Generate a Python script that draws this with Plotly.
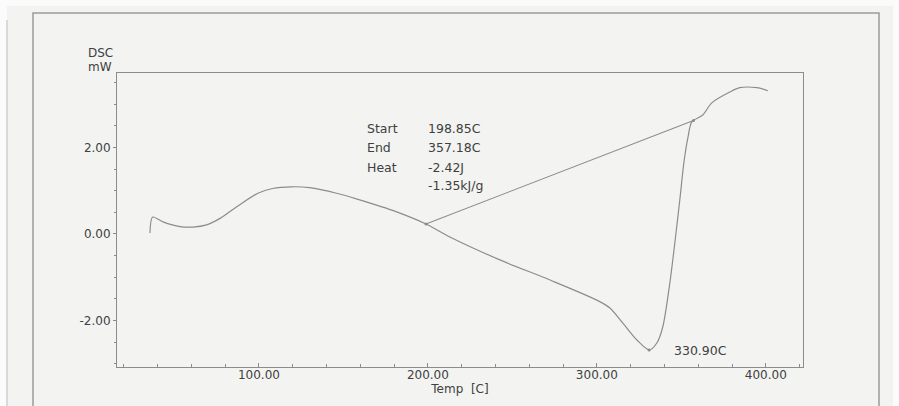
import plotly.graph_objects as go

# ---- data ----
temp_c = [35.5, 37.1, 43.2, 53.3, 61.0, 69.0, 77.0, 88.0, 99.4, 108.0, 119.5, 130.0,
          146.0, 158.6, 178.7, 198.85, 213.0, 242.6, 272.0, 300.0, 307.7, 315.4, 323.7,
          331.0, 335.5, 339.0, 343.2, 349.1, 351.5, 354.0, 356.2, 362.7, 368.0,
          378.7, 384.6, 394.7, 401.2]
dsc_mw = [0.02, 0.39, 0.28, 0.17, 0.16, 0.21, 0.36, 0.66, 0.94, 1.05, 1.09, 1.07,
          0.94, 0.80, 0.55, 0.23, -0.07, -0.60, -1.06, -1.53, -1.71, -2.06, -2.45,
          -2.68, -2.52, -2.15, -1.13, 0.79, 1.65, 2.25, 2.59, 2.75, 3.03,
          3.28, 3.38, 3.38, 3.31]

baseline_t = [198.85, 357.18]
baseline_v = [0.23, 2.62]

peak_t = 330.90
peak_v = -2.68

x_tickvals = [100, 200, 300, 400]
x_ticktext = ["100.00", "200.00", "300.00", "400.00"]
y_tickvals = [-2, 0, 2]
y_ticktext = ["-2.00", "0.00", "2.00"]

info_labels = ["Start", "End", "Heat", ""]
info_values = ["198.85C", "357.18C", "-2.42J", "-1.35kJ/g"]

LINE = "#8c8c8c"
TEXT = "#404040"
FONT = "DejaVu Sans, Verdana, sans-serif"
PAGE = "#f3f4f2"
FS = 12.5

fig = go.Figure()
fig.add_trace(go.Scatter(x=temp_c, y=dsc_mw, mode="lines",
                         line=dict(color=LINE, width=1.2, shape="spline", smoothing=0.8),
                         hoverinfo="skip"))
fig.add_trace(go.Scatter(x=baseline_t, y=baseline_v, mode="lines+markers",
                         line=dict(color=LINE, width=1.1),
                         marker=dict(size=3, color=LINE), hoverinfo="skip"))
fig.add_trace(go.Scatter(x=[peak_t], y=[peak_v], mode="markers",
                         marker=dict(size=3, color=LINE), hoverinfo="skip"))

# info text block
label_y = [2.43, 1.99, 1.53, 1.13]
for lab, val, yy in zip(info_labels, info_values, label_y):
    if lab:
        fig.add_annotation(x=162.7, y=yy, text=lab, showarrow=False, xanchor="left",
                           yanchor="middle", font=dict(size=FS, color=TEXT, family=FONT))
    fig.add_annotation(x=198.8, y=yy, text=val, showarrow=False, xanchor="left",
                       yanchor="middle", font=dict(size=FS, color=TEXT, family=FONT))

fig.add_annotation(x=344.4, y=-2.70, text=f"{peak_t:.2f}C", showarrow=False,
                   xanchor="left", yanchor="middle",
                   font=dict(size=FS, color=TEXT, family=FONT))


def px(x):
    return (x - 117) / 686


def py(y):
    return (367 - y) / 294


# DSC / mW unit label
fig.add_annotation(xref="paper", yref="paper", x=px(86), y=py(53),
                   text="DSC", showarrow=False, xanchor="left", yanchor="middle",
                   font=dict(size=12, color=TEXT, family=FONT))
fig.add_annotation(xref="paper", yref="paper", x=px(86), y=py(67),
                   text="mW", showarrow=False, xanchor="left", yanchor="middle",
                   font=dict(size=12, color=TEXT, family=FONT))

# scanned page and its printed frame
fig.add_shape(type="rect", xref="paper", yref="paper",
              x0=px(7), x1=px(893), y0=py(420), y1=py(6),
              line=dict(width=0), fillcolor=PAGE, layer="below")
fig.add_shape(type="rect", xref="paper", yref="paper",
              x0=px(33), x1=px(879), y0=py(420), y1=py(13),
              line=dict(color="#9a9a9a", width=1.5), layer="below")
fig.add_shape(type="line", xref="paper", yref="paper",
              x0=px(7), x1=px(7), y0=py(420), y1=py(20),
              line=dict(color="#cfcfcf", width=1.5), layer="below")

fig.update_layout(
    width=899, height=406,
    margin=dict(l=117, r=96, t=73, b=39),
    paper_bgcolor="#fbfbfb", plot_bgcolor=PAGE,
    showlegend=False,
    font=dict(family=FONT, size=12, color=TEXT),
    xaxis=dict(range=[16, 422], tickvals=x_tickvals, ticktext=x_ticktext,
               ticks="inside", ticklen=4, tickcolor=LINE, showgrid=False, zeroline=False,
               showline=True, linecolor=LINE, linewidth=1, mirror=True,
               ticklabelstandoff=-3,
               tickfont=dict(size=12, color=TEXT, family=FONT),
               minor=dict(dtick=20, tick0=0, ticks="inside", ticklen=3, tickcolor=LINE),
               title=dict(text="Temp  [C]", standoff=0,
                          font=dict(size=12, color=TEXT, family=FONT))),
    yaxis=dict(range=[-3.075, 3.72], tickvals=y_tickvals, ticktext=y_ticktext,
               ticks="outside", ticklen=3, tickcolor=LINE, showgrid=False, zeroline=False,
               showline=True, linecolor=LINE, linewidth=1, mirror=True,
               ticklabelstandoff=0,
               tickfont=dict(size=12, color=TEXT, family=FONT),
               minor=dict(dtick=0.5, tick0=0, ticks="outside", ticklen=2, tickcolor=LINE)),
)

fig.write_html("out.html", config={"displayModeBar": False, "staticPlot": True},
               post_script="document.body.style.margin='0';"
                           "document.body.style.overflow='hidden';")
